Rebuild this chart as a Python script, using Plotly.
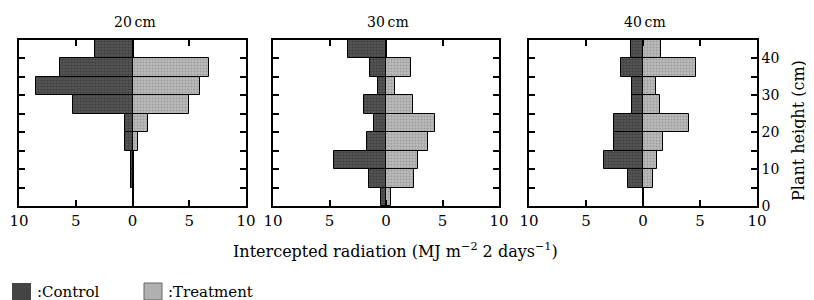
import plotly.graph_objects as go

# Plant height bins (cm): centres of 5-cm layers
heights = [2.5, 7.5, 12.5, 17.5, 22.5, 27.5, 32.5, 37.5, 42.5]

panels = ["20\u2009cm", "30\u2009cm", "40\u2009cm"]

control_20 = [0.0, 0.15, 0.15, 0.65, 0.65, 5.2, 8.5, 6.35, 3.3]
treat_20 = [0.0, 0.0, 0.0, 0.45, 1.35, 5.0, 5.95, 6.75, 0.0]

control_30 = [0.4, 1.5, 4.6, 1.65, 1.05, 1.95, 0.7, 1.45, 3.35]
treat_30 = [0.45, 2.5, 2.85, 3.75, 4.35, 2.35, 0.8, 2.2, 0.0]

control_40 = [0.0, 1.3, 3.45, 2.55, 2.55, 1.0, 1.0, 1.9, 1.05]
treat_40 = [0.0, 0.9, 1.2, 1.75, 4.0, 1.45, 1.15, 4.65, 1.6]

controls = [control_20, control_30, control_40]
treats = [treat_20, treat_30, treat_40]

x_tickvals = [-10, -5, 0, 5, 10]
x_ticktext = ["10", "5", "0", "5", "10"]
y_tickvals = [0, 10, 20, 30, 40]
y_ticktext = ["0", "10", "20", "30", "40"]

FONT = "DejaVu Serif"
CONTROL_COLOR = "#555555"
CONTROL_DOT = "#262626"
TREAT_COLOR = "#bdbdbd"
TREAT_DOT = "#7a7a7a"

W, H = 814, 300
OFF = 8  # page body margin offset


def px(x):
    return (x - OFF) / W


def py(y):
    return 1 - (y - OFF) / H


x_domains = [(19, 246), (273, 499), (529, 757)]
y_top, y_bot = 40, 206

fig = go.Figure()
layout = dict(
    width=W, height=H,
    margin=dict(l=0, r=0, t=0, b=0, autoexpand=False),
    paper_bgcolor="white", plot_bgcolor="white",
    barmode="relative", bargap=0, showlegend=False,
    font=dict(family=FONT, color="black"),
)

for i in range(3):
    xa = "x" if i == 0 else f"x{i+1}"
    ya = "y" if i == 0 else f"y{i+1}"
    fig.add_trace(go.Bar(
        y=heights, x=[-v for v in controls[i]], orientation="h", width=5,
        marker=dict(color=CONTROL_COLOR, line=dict(color="black", width=1),
                    pattern=dict(shape=".", fgcolor=CONTROL_DOT, size=3,
                                 solidity=0.4, fillmode="overlay")),
        name="Control", xaxis=xa, yaxis=ya))
    fig.add_trace(go.Bar(
        y=heights, x=treats[i], orientation="h", width=5,
        marker=dict(color=TREAT_COLOR, line=dict(color="black", width=1),
                    pattern=dict(shape=".", fgcolor=TREAT_DOT, size=3,
                                 solidity=0.4, fillmode="overlay")),
        name="Treatment", xaxis=xa, yaxis=ya))
    xk = "xaxis" if i == 0 else f"xaxis{i+1}"
    yk = "yaxis" if i == 0 else f"yaxis{i+1}"
    x0, x1 = x_domains[i]
    layout[xk] = dict(
        domain=[px(x0), px(x1)], anchor=ya, range=[-10, 10],
        tickvals=x_tickvals, ticktext=x_ticktext, ticks="inside", ticklen=6,
        tickwidth=1.5, tickcolor="black", automargin=False,
        showline=True, linecolor="black", linewidth=1.5, mirror="allticks",
        showgrid=False, zeroline=True, zerolinecolor="black", zerolinewidth=1.5,
        tickfont=dict(family=FONT, size=15, color="black"), fixedrange=True,
    )
    layout[yk] = dict(
        domain=[py(y_bot), py(y_top)], anchor=xa, range=[0, 45],
        tickvals=y_tickvals, ticktext=y_ticktext, ticks="inside", ticklen=6,
        tickwidth=1.5, tickcolor="black", automargin=False,
        minor=dict(tick0=0, dtick=5, ticks="inside", ticklen=6, tickwidth=1.5,
                   tickcolor="black", showgrid=False),
        showline=True, linecolor="black", linewidth=1.5, mirror="allticks",
        showgrid=False, zeroline=False,
        showticklabels=(i == 2), side="right" if i == 2 else "left",
        tickfont=dict(family=FONT, size=14, color="black"), fixedrange=True,
    )

fig.update_layout(**layout)


def note(text, x, y, size, xanchor="center", angle=0):
    return dict(text=text, x=px(x), y=py(y), xref="paper", yref="paper",
                xanchor=xanchor, yanchor="middle", showarrow=False,
                textangle=angle, font=dict(family=FONT, size=size, color="black"))


annotations = []
for i, t in enumerate(panels):
    x0, x1 = x_domains[i]
    annotations.append(note(t, (x0 + x1) / 2 + 2, 22, 14))
annotations.append(note(
    "Intercepted radiation (MJ m<sup>\u22122</sup> 2 days<sup>\u22121</sup>)",
    395, 250, 16))
annotations.append(note("Plant height (cm)", 799, 131, 16, angle=-90))
annotations.append(note(":Control", 35, 292, 15, xanchor="left"))
annotations.append(note(":Treatment", 166, 292, 15, xanchor="left"))

shapes = [
    dict(type="rect", xref="paper", yref="paper", x0=px(12), x1=px(31),
         y0=py(300), y1=py(283), fillcolor="#444444", line=dict(width=0)),
    dict(type="rect", xref="paper", yref="paper", x0=px(144), x1=px(162),
         y0=py(300), y1=py(283), fillcolor="#b0b0b0",
         line=dict(color="#666", width=1)),
]
fig.update_layout(annotations=annotations, shapes=shapes)

fig.write_html("out.html")
